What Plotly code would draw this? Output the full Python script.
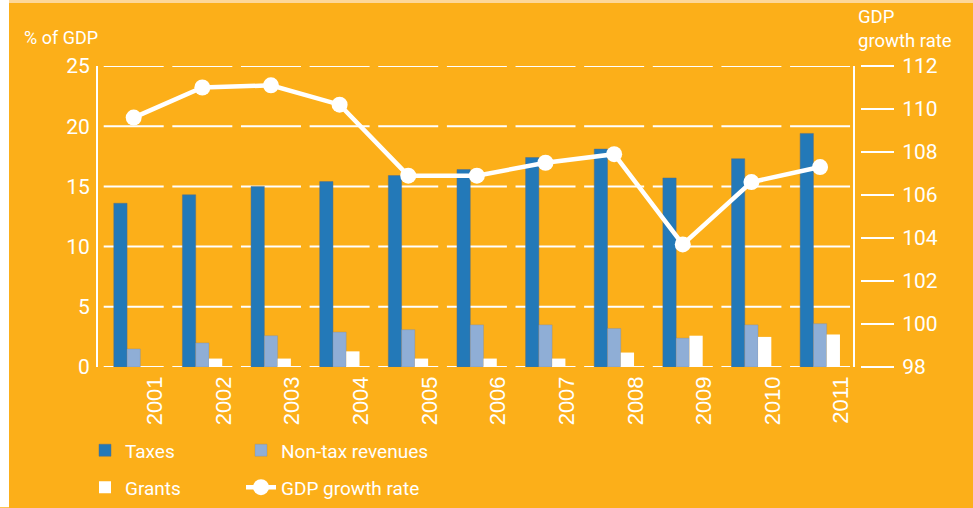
import plotly.graph_objects as go

# Revenue composition (% of GDP) and GDP growth rate, 2001-2011
years = ["2001", "2002", "2003", "2004", "2005", "2006", "2007", "2008", "2009", "2010", "2011"]
taxes = [13.6, 14.3, 15.0, 15.4, 15.9, 16.4, 17.4, 18.1, 15.7, 17.3, 19.4]
non_tax = [1.5, 2.0, 2.6, 2.9, 3.1, 3.5, 3.5, 3.2, 2.4, 3.5, 3.6]
grants = [0.0, 0.7, 0.7, 1.3, 0.7, 0.7, 0.7, 1.2, 2.6, 2.5, 2.7]
gdp_growth = [109.6, 111.0, 111.1, 110.2, 106.9, 106.9, 107.5, 107.9, 103.7, 106.6, 107.3]

left_ticks = [0, 5, 10, 15, 20, 25]
right_ticks = [98, 100, 102, 104, 106, 108, 110, 112]

ORANGE = "#FCAF19"
TAX_BLUE = "#2379B8"
NONTAX_BLUE = "#8FAED6"
WHITE = "#FFFFFF"
FONT = "Roboto"

xpos = list(range(len(years)))

fig = go.Figure()
fig.add_trace(go.Bar(
    x=xpos, y=taxes, name="Taxes", marker_color=TAX_BLUE, showlegend=True,
    marker_line=dict(color="rgba(90,110,130,0.6)", width=0.8), legend="legend"))
fig.add_trace(go.Bar(
    x=xpos, y=non_tax, name="Non-tax revenues", marker_color=NONTAX_BLUE, showlegend=True,
    marker_line=dict(color="rgba(120,130,150,0.5)", width=0.6), legend="legend2"))
fig.add_trace(go.Bar(
    x=xpos, y=grants, name="Grants", marker_color=WHITE, showlegend=True,
    marker_line=dict(width=0), legend="legend3"))
fig.add_trace(go.Scatter(
    x=xpos, y=gdp_growth, name="GDP growth rate", yaxis="y2", mode="lines+markers",
    line=dict(color=WHITE, width=4.5), marker=dict(size=16, color=WHITE), showlegend=True,
    legend="legend4"))

# Per-category gridline segments, broken between year groups
half = 0.437
shapes = []
for v in left_ticks:
    for i in xpos:
        shapes.append(dict(type="line", xref="x", yref="y", x0=i - half, x1=i + half,
                           y0=v, y1=v, line=dict(color=WHITE, width=2), layer="below"))

# Page frame: white strip on the left edge and pale band across the top
W = 762.0
H = 301.5
L = 98.0
T = 66.0
def px_x(p):
    return (p - L) / W
def px_y(p):
    return (T + H - p) / H
shapes.append(dict(type="rect", xref="paper", yref="paper", x0=px_x(0), x1=px_x(973),
                   y0=px_y(3), y1=px_y(0), fillcolor="#FDD79A", line=dict(width=0), layer="below"))
shapes.append(dict(type="rect", xref="paper", yref="paper", x0=px_x(0), x1=px_x(9),
                   y0=px_y(508), y1=px_y(0), fillcolor=WHITE, line=dict(width=0), layer="below"))

def legend_box(x_px, y_px):
    return dict(orientation="h", x=px_x(x_px), xanchor="left", y=px_y(y_px), yanchor="middle",
                bgcolor="rgba(0,0,0,0)", font=dict(size=19, color=WHITE), itemwidth=30,
                visible=True)

fig.update_layout(
    width=973, height=508,
    showlegend=True,
    margin=dict(l=98, r=113, t=66, b=140.5, autoexpand=False),
    paper_bgcolor=ORANGE, plot_bgcolor=ORANGE,
    barmode="group", bargap=0.42, bargroupgap=0,
    font=dict(family=FONT, color=WHITE, size=17),
    hovermode=False,
    shapes=shapes,
    xaxis=dict(
        domain=[0, 755 / W], range=[-0.52, len(years) - 0.52],
        tickmode="array", tickvals=[i + 0.31 for i in xpos], ticktext=years,
        tickangle=-90, tickfont=dict(family="Liberation Sans", size=22, color=WHITE),
        showgrid=False, zeroline=False, showline=False, ticks="", ticklabelstandoff=4),
    yaxis=dict(
        range=[0, 25], tickvals=left_ticks, showgrid=False, zeroline=False,
        showline=True, mirror=True, linecolor=WHITE, linewidth=2,
        ticks="", tickfont=dict(size=21, color=WHITE), ticklabelstandoff=2),
    yaxis2=dict(
        range=[98, 112], tickvals=right_ticks, overlaying="y", side="right",
        anchor="free", position=1, showgrid=False, zeroline=False, showline=False,
        ticks="outside", ticklen=33, tickwidth=2, tickcolor=WHITE,
        tickfont=dict(size=21, color=WHITE), ticklabelstandoff=4),
    legend=legend_box(85, 451),
    legend2=legend_box(241, 451),
    legend3=legend_box(85, 488),
    legend4=legend_box(241, 488),
    annotations=[
        dict(text="% of GDP", xref="paper", yref="paper", x=px_x(22), y=px_y(37),
             xanchor="left", yanchor="middle", showarrow=False,
             font=dict(size=18, color=WHITE)),
        dict(text="GDP<br>growth rate", xref="paper", yref="paper", x=px_x(856), y=px_y(29),
             xanchor="left", yanchor="middle", align="left", showarrow=False,
             font=dict(size=18.5, color=WHITE)),
    ],
)

fig.write_html("out.html")
